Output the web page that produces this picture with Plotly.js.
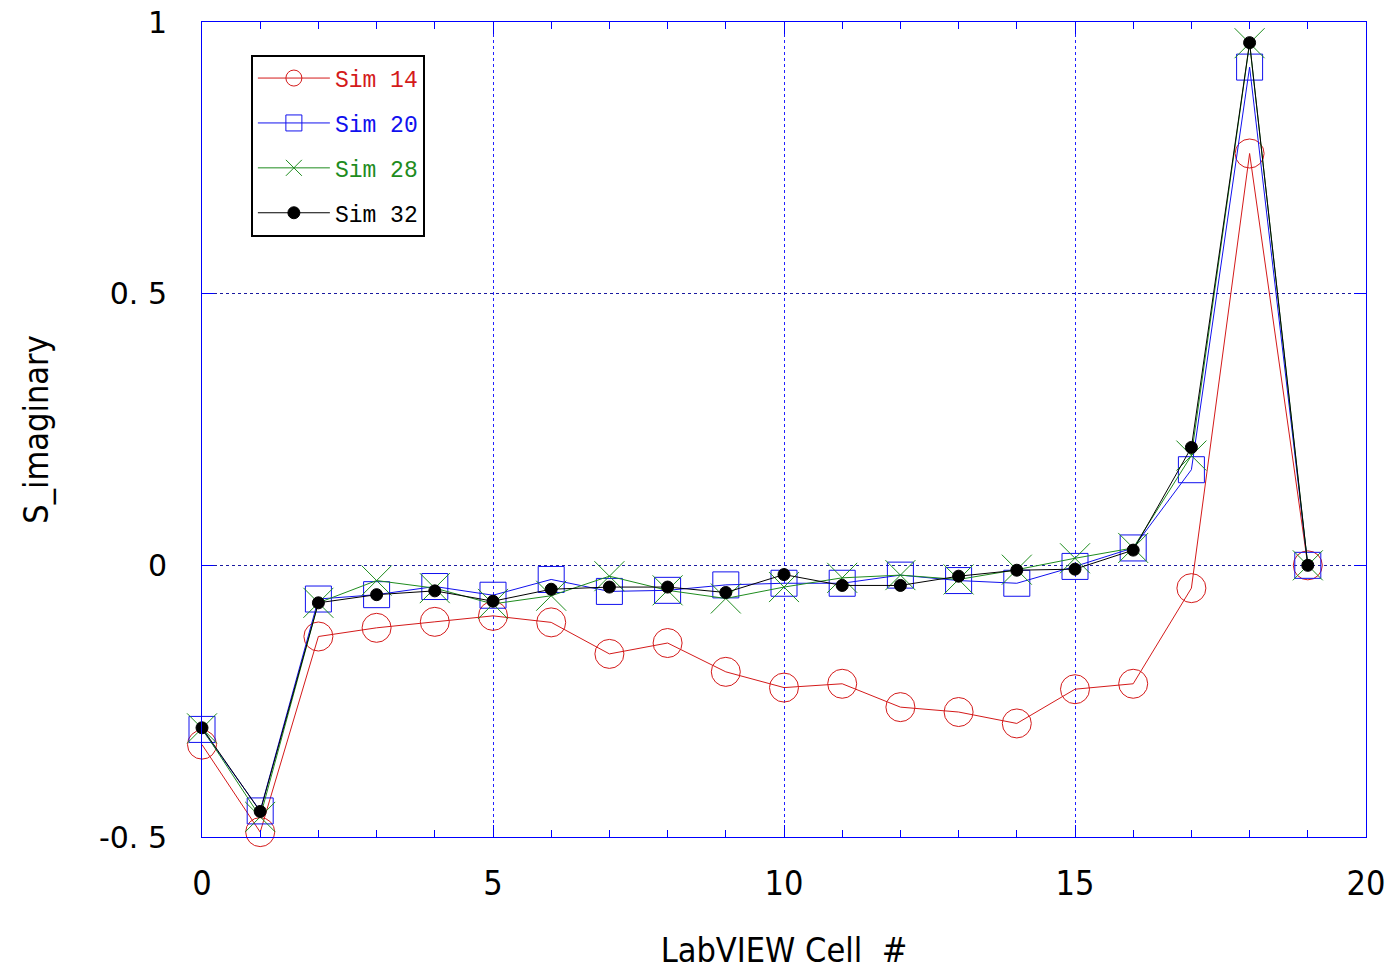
<!DOCTYPE html>
<html><head><meta charset="utf-8">
<script src="https://cdn.plot.ly/plotly-3.0.1.min.js"></script>
<style>body{margin:0;background:#fff}#c{width:1391px;height:971px}
#c text.xtitle, #c text.ytitle, #c .xtick text {font-stretch: condensed;}
</style>
</head><body><div id="c"></div>
<script>
const cells = [0,1,2,3,4,5,6,7,8,9,10,11,12,13,14,15,16,17,18,19];
const sim14 = [-0.330,-0.491,-0.131,-0.115,-0.104,-0.093,-0.105,-0.163,-0.143,-0.196,-0.225,-0.218,-0.261,-0.270,-0.291,-0.228,-0.218,-0.042,0.758,0.0];
const sim20 = [-0.302,-0.452,-0.062,-0.054,-0.039,-0.055,-0.026,-0.048,-0.046,-0.036,-0.033,-0.033,-0.018,-0.028,-0.033,-0.002,0.032,0.176,0.917,0.0];
const sim28 = [-0.300,-0.463,-0.069,-0.028,-0.042,-0.071,-0.056,-0.020,-0.046,-0.061,-0.040,-0.023,-0.018,-0.026,-0.008,0.013,0.032,0.202,0.961,0.0];
const sim32 = [-0.299,-0.453,-0.069,-0.054,-0.047,-0.066,-0.044,-0.040,-0.040,-0.050,-0.017,-0.037,-0.037,-0.020,-0.009,-0.007,0.028,0.217,0.962,0.0];
const names = ['Sim 14','Sim 20','Sim 28','Sim 32'];
const xTicks = [0,5,10,15,20];
const yTicks = [-0.5,0,0.5,1];
const yTickText = ['-0. 5','0','0. 5','1'];

const colors = ['#d41a1a','#1010ee','#1e8c1e','#000000'];
const symbols = ['circle-open','square-open','x-thin-open','circle'];
const sizes = [29,26,30,12];
const series = [sim14,sim20,sim28,sim32];
const traces = series.map((s,i)=>({
  x: cells, y: s, type:'scatter', mode:'lines+markers',
  name: '<span style="color:'+colors[i]+'">'+names[i]+'</span>',
  legendgroup: 'g'+i,
  line:{color:colors[i], width:1},
  marker:{symbol:symbols[i], size:sizes[i], color:colors[i], line:{color:colors[i], width:1}},
  cliponaxis:false
}));
const condFam = '"DejaVu Sans Condensed","Liberation Sans Narrow","DejaVu Sans",sans-serif';
const layout = {
  width:1391, height:971,
  margin:{l:202, r:25, t:22, b:134},
  paper_bgcolor:'#fff', plot_bgcolor:'#fff',
  showlegend:true,
  legend:{x:0.042, y:0.96, xanchor:'left', yanchor:'top', bgcolor:'#fff',
    bordercolor:'#000', borderwidth:2, itemwidth:72, tracegroupgap:12,
    font:{family:'"Liberation Mono","DejaVu Sans Mono",monospace', size:23, color:'#000'}},
  xaxis:{range:[0,20], tickvals:xTicks, ticktext:xTicks.map(String), ticks:'inside', ticklen:12,
    tickcolor:'#0000ff', linecolor:'#0000ff', linewidth:1, mirror:'ticks', showline:true,
    showgrid:true, gridcolor:'#2020ff', griddash:'dot', gridwidth:1, zeroline:false,
    tickfont:{family:condFam, size:34, color:'#000'}, ticklabelstandoff:16,
    minor:{dtick:1, ticks:'inside', ticklen:7, tickcolor:'#0000ff', showgrid:false},
    title:{text:'LabVIEW Cell  #', font:{family:condFam, size:34, color:'#000'}, standoff:36}},
  yaxis:{range:[-0.5,1], tickvals:yTicks, ticktext:yTickText, ticks:'inside', ticklen:12,
    tickcolor:'#0000ff', linecolor:'#0000ff', linewidth:1, mirror:'ticks', showline:true,
    showgrid:true, gridcolor:'#1a1aa0', griddash:'dot', gridwidth:1, zeroline:false,
    tickfont:{family:'"DejaVu Sans","Liberation Sans",sans-serif', size:30, color:'#000'}, ticklabelstandoff:28,
    title:{text:'S_imaginary', font:{family:condFam, size:34, color:'#000'}, standoff:40}}
};
Plotly.newPlot('c', traces, layout, {displayModeBar:false, staticPlot:true});
</script></body></html>
